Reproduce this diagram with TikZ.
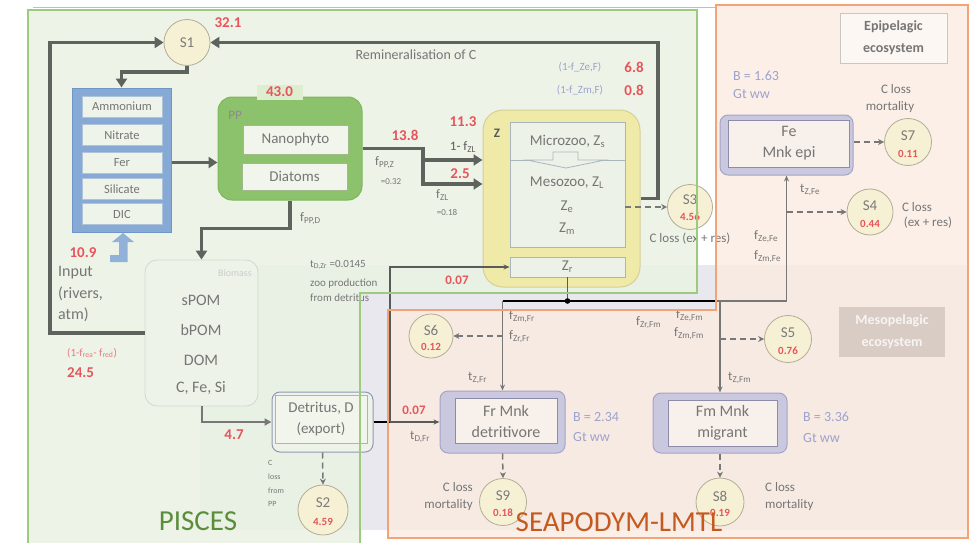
\documentclass[tikz,border=0pt]{standalone}
\usepackage{fontspec}
\setmainfont{Carlito}
\usetikzlibrary{arrows.meta}
\newcommand{\subx}[1]{\textsubscript{#1}}
\definecolor{pgreenfill}{HTML}{EAF3E3}
\definecolor{pgreenline}{HTML}{9CCB80}
\definecolor{sorgfill}{HTML}{FBEBE1}
\definecolor{sorgline}{HTML}{F2A478}
\definecolor{mesogray}{HTML}{E8E8EE}
\definecolor{numred}{HTML}{E6555B}
\definecolor{txtgray}{HTML}{767676}
\definecolor{darktxt}{HTML}{5A5A5A}
\definecolor{darkline}{HTML}{5E635E}
\definecolor{midline}{HTML}{777777}
\definecolor{nutblue}{HTML}{86A9D5}
\definecolor{nutline}{HTML}{6E97C8}
\definecolor{innerfill}{HTML}{EEF4EA}
\definecolor{innerline}{HTML}{AFC3D8}
\definecolor{ppgreen}{HTML}{8DC26C}
\definecolor{ppline}{HTML}{7FB55C}
\definecolor{ppinfill}{HTML}{F1F5EC}
\definecolor{ppinline}{HTML}{9FB98C}
\definecolor{tabgreen}{HTML}{DCEDD0}
\definecolor{zyellow}{HTML}{EFEAA8}
\definecolor{zline}{HTML}{D6CF98}
\definecolor{zinner}{HTML}{EDF2E8}
\definecolor{zinline}{HTML}{A9B6BE}
\definecolor{circfill}{HTML}{F6F1D5}
\definecolor{circline}{HTML}{B3AC94}
\definecolor{mnkfill}{HTML}{C9C8DF}
\definecolor{mnkline}{HTML}{A5A4C6}
\definecolor{mnkinner}{HTML}{F8F0EB}
\definecolor{mnkinline}{HTML}{8E8BAA}
\definecolor{lav}{HTML}{9EA2CE}
\definecolor{piscestxt}{HTML}{5B8E3C}
\definecolor{seatxt}{HTML}{C45A1E}
\definecolor{biofill}{HTML}{EEF3EA}
\definecolor{bioline}{HTML}{D2D8CE}
\definecolor{mesobox}{HTML}{D8CCC5}
\definecolor{detline}{HTML}{9097B5}
\definecolor{detinline}{HTML}{A9B3C2}
\tikzset{
  lbl/.style={text=txtgray, inner sep=0pt, font=\fontsize{13}{15}\selectfont},
  small/.style={text=txtgray, inner sep=0pt, font=\fontsize{11}{13}\selectfont},
  tinyt/.style={text=txtgray, inner sep=0pt, font=\fontsize{8}{9}\selectfont},
  num/.style={text=numred, inner sep=0pt, font=\bfseries\fontsize{15}{17}\selectfont},
  snum/.style={text=numred, inner sep=0pt, font=\bfseries\fontsize{11}{12}\selectfont},
  bigt/.style={text=txtgray, inner sep=0pt, font=\fontsize{16}{19}\selectfont},
  blav/.style={text=lav, inner sep=0pt, font=\fontsize{14}{16}\selectfont},
  cirtxt/.style={text=darktxt!80, inner sep=0pt, font=\fontsize{15}{17}\selectfont},
  scirc/.style={circle, draw=circline, fill=circfill, line width=0.8pt, minimum size=46pt, inner sep=0pt},
  nutbox/.style={draw=innerline, fill=innerfill, line width=0.8pt, minimum width=80pt, minimum height=21pt, inner sep=0pt, text=txtgray, font=\fontsize{12.5}{14}\selectfont},
  ppin/.style={draw=ppinline, fill=ppinfill, line width=0.8pt, minimum width=105pt, inner sep=0pt, text=txtgray, font=\fontsize{15}{17}\selectfont},
  zin/.style={draw=zinline, fill=zinner, line width=0.9pt, minimum width=115pt, inner sep=0pt, text=txtgray, font=\fontsize{15}{17}\selectfont},
  zt/.style={text=txtgray, inner sep=0pt, font=\fontsize{15}{17}\selectfont},
  mnkout/.style={draw=mnkline, fill=mnkfill, rounded corners=8pt, line width=1pt, inner sep=0pt},
  mnkin/.style={draw=mnkinline, fill=mnkinner, line width=0.8pt, inner sep=0pt, align=center, text=txtgray, font=\fontsize{16}{21}\selectfont},
  thickarr/.style={draw=darkline, line width=3.5pt, -{Triangle[length=9pt,width=11pt]}},
  midarr/.style={draw=midline, line width=2pt, -{Triangle[length=7pt,width=7pt]}},
  thinarr/.style={draw=midline, line width=1.2pt, -{Stealth[length=6pt,width=5pt]}},
  dasharr/.style={draw=midline, line width=1.5pt, dash pattern=on 6pt off 4pt, -{Stealth[length=6pt,width=6pt]}}
}
\begin{document}
\begin{tikzpicture}[x=1pt,y=-1pt]
\useasboundingbox (0,0) rectangle (974,543);
\fill[white] (0,0) rectangle (974,543);
\fill[mesogray] (200,265) rectangle (968,530);
\fill[pgreenfill, opacity=0.85] (28,10) -- (697,10) -- (697,293) -- (360,293) -- (360,543) -- (28,543) -- cycle;
\fill[sorgfill, opacity=0.8] (716,5) -- (968,5) -- (968,538) -- (388,538) -- (388,310) -- (716,310) -- cycle;
\draw[gray!50, line width=0.6pt] (33,7) -- (716,7);

% ---------- coordinates
\coordinate (lc) at (50,42.5);
\coordinate (rc) at (658,42.5);
\coordinate (jz1) at (423,160);
\coordinate (jz2) at (423,184);
\coordinate (jd) at (390,422);
\coordinate (hb) at (567.5,301);
\coordinate (hbr) at (716,301);

% ---------- S1
\node[scirc] (s1) at (187,42.5) {};
\node[cirtxt] at (s1) {S1};
\node[num] at (228,23) {32.1};

% ---------- nutrients
\node[draw=nutline, fill=nutblue, line width=1pt, minimum width=99pt, minimum height=144pt, inner sep=0pt] (nut) at (121.5,160) {};
\node[nutbox] (amm) at (122,106.5) {Ammonium};
\node[nutbox] (nit) at (122,135) {Nitrate};
\node[nutbox] (fer) at (122,162.5) {Fer};
\node[nutbox] (sil) at (122,189) {Silicate};
\node[nutbox] (dic) at (122,214) {DIC};
\fill[nutblue!90] (123,233) -- (134,242) -- (127.5,242) -- (127.5,262) -- (110,262) -- (110,255) -- (119,255) -- (119,242) -- (112,242) -- cycle;
\node[num] at (83,253) {10.9};
\node[bigt, anchor=west] at (58,273) {Input};
\node[bigt, anchor=west] at (58,294) {(rivers,};
\node[bigt, anchor=west] at (58,315) {atm)};
\node[text=numred!80, inner sep=0pt, font=\fontsize{11}{13}\selectfont, anchor=west] at (67,353) {(1-f\subx{rea}- f\subx{red})};
\node[num, anchor=west] at (67,373) {24.5};

% ---------- PP
\node[draw=ppline, fill=ppgreen, rounded corners=14pt, line width=1pt, minimum width=144pt, minimum height=103pt, inner sep=0pt] (pp) at (290,148.5) {};
\node[fill=tabgreen, minimum width=46pt, minimum height=15pt, inner sep=0pt] (tab) at (279.5,92) {};
\node[num] at (tab) {43.0};
\node[lbl, text=darktxt!70] at (235,115) {PP};
\node[ppin, minimum height=29pt] (nano) at (295.5,139.5) {Nanophyto};
\node[ppin, minimum height=27pt] (diat) at (294.5,176.5) {Diatoms};

% ---------- Biomass
\node[draw=bioline, fill=biofill, rounded corners=12pt, line width=0.8pt, minimum width=113pt, minimum height=146pt, inner sep=0pt] (bio) at (201.5,333) {};
\node[inner sep=0pt, text=gray!40, font=\fontsize{10}{12}\selectfont, anchor=east] at (252,273) {Biomass};
\node[bigt] at (201,300) {sPOM};
\node[bigt] at (201,330) {bPOM};
\node[bigt] at (201,360) {DOM};
\node[bigt] at (201,388) {C, Fe, Si};

% ---------- Detritus
\node[draw=detline, fill=biofill, rounded corners=8pt, line width=1pt, minimum width=101pt, minimum height=60pt, inner sep=0pt] (det) at (322.5,422) {};
\node[draw=detinline, fill=ppinfill, line width=0.8pt, minimum width=92pt, minimum height=48pt, inner sep=0pt, align=center, text=txtgray, font=\fontsize{15}{21}\selectfont] (deti) at (321,419) {Detritus, D\\(export)};
\node[scirc, minimum size=50pt] (s2) at (323,510) {};
\node[cirtxt] at (323,503) {S2};
\node[snum] at (323,522) {4.59};
\node[tinyt, anchor=west] at (268,463) {C};
\node[tinyt, anchor=west] at (268,477) {loss};
\node[tinyt, anchor=west] at (268,491) {from};
\node[tinyt, anchor=west] at (268,504) {PP};

% ---------- Z
\node[draw=zline, fill=zyellow, rounded corners=20pt, line width=1pt, minimum width=157pt, minimum height=177pt, inner sep=0pt] (zbox) at (561.5,198.5) {};
\node[inner sep=0pt, font=\bfseries\fontsize{13}{15}\selectfont, text=darktxt] at (497,133) {Z};
\node[zin, minimum height=87pt] (meso) at (567.5,203.5) {};
\node[zin, minimum height=38pt] (micro) at (567.5,141) {Microzoo, Z\subx{s}};
\filldraw[fill=zinner, draw=zinline, line width=0.8pt] (553,160) -- (553,152) -- (578,152) -- (578,160) -- (605,160) -- (566,168) -- (527,160) -- cycle;
\node[zt] at (567,183) {Mesozoo, Z\subx{L}};
\node[zt] at (567,207) {Z\subx{e}};
\node[zt] at (567,229) {Z\subx{m}};
\node[zin, minimum height=20pt] (zr) at (567.5,267) {Z\subx{r}};

\node[scirc, minimum size=45pt] (s3) at (690,207) {};
\node[cirtxt] at (690,200) {S3};
\node[snum] at (690,217) {4.56};
\node[lbl] at (690,239) {C loss (ex + res)};

% ---------- labels on top / PP-Z
\node[inner sep=0pt, text=txtgray, font=\fontsize{14}{16}\selectfont] at (416,55) {Remineralisation of C};
\node[inner sep=0pt, text=lav, font=\fontsize{11}{13}\selectfont] at (580,67) {(1-f\_Ze,F)};
\node[num] at (634,67) {6.8};
\node[inner sep=0pt, text=lav, font=\fontsize{11}{13}\selectfont] at (580,90) {(1-f\_Zm,F)};
\node[num] at (634,90) {0.8};
\node[num] at (405,135) {13.8};
\node[lbl, anchor=west] at (375,163) {f\subx{PP,Z}};
\node[inner sep=0pt, text=txtgray, font=\fontsize{9}{10}\selectfont] at (391,182) {=0.32};
\node[num] at (463,122) {11.3};
\node[lbl, text=darktxt] at (463,147) {1- f\subx{ZL}};
\node[num] at (460,174) {2.5};
\node[lbl, anchor=west] at (436,195) {f\subx{ZL}};
\node[inner sep=0pt, text=txtgray, font=\fontsize{9}{10}\selectfont] at (447,212) {=0.18};
\node[lbl, anchor=west] at (300,219) {f\subx{PP,D}};
\node[num] at (234,435) {4.7};
\node[small, anchor=west] at (310,265) {t\subx{D,Zr} =0.0145};
\node[small, anchor=west] at (310,284) {zoo production};
\node[small, anchor=west] at (310,298) {from detritus};
\node[num, font=\bfseries\fontsize{13}{15}\selectfont] at (457,280) {0.07};

% ---------- Mnk boxes
\node[mnkout, minimum width=133pt, minimum height=60pt] (fe) at (786.5,145) {};
\node[mnkin, minimum width=121pt, minimum height=47pt] (fei) at (789,143.5) {Fe\\Mnk epi};
\node[mnkout, minimum width=125pt, minimum height=62pt] (frm) at (502.5,422) {};
\node[mnkin, minimum width=102pt, minimum height=45pt] (frmi) at (506,421) {Fr Mnk\\detritivore};
\node[mnkout, minimum width=134pt, minimum height=60pt] (fmm) at (720,423) {};
\node[mnkin, minimum width=109pt, minimum height=46pt] (fmmi) at (722.5,423) {Fm Mnk\\migrant};

\node[draw=gray!45, fill=white!60!sorgfill, line width=0.8pt, minimum width=107pt, minimum height=50pt, inner sep=0pt, align=center, text=txtgray, font=\bfseries\fontsize{14}{22}\selectfont] (epi) at (893.5,38) {Epipelagic\\ecosystem};
\node[fill=mesobox, minimum width=106pt, minimum height=50pt, inner sep=0pt, align=center, text=white!80!mesobox, font=\bfseries\fontsize{14}{22}\selectfont] (mesoeco) at (892,332) {Mesopelagic\\ecosystem};

\node[blav, anchor=west] at (733,76) {B = 1.63};
\node[blav, anchor=west] at (733,94) {Gt ww};
\node[blav, anchor=west] at (573,417) {B = 2.34};
\node[blav, anchor=west] at (573,437) {Gt ww};
\node[blav, anchor=west] at (803,417) {B = 3.36};
\node[blav, anchor=west] at (803,438) {Gt ww};

% ---------- S circles Seapodym
\node[scirc, minimum size=47pt] (s7) at (908,142) {};
\node[cirtxt] at (908,136) {S7};
\node[snum] at (908,154) {0.11};
\node[lbl] at (896,89) {C loss};
\node[lbl] at (890,107) {mortality};
\node[scirc, minimum size=46pt] (s4) at (870,212) {};
\node[cirtxt] at (870,206) {S4};
\node[snum] at (870,224) {0.44};
\node[lbl] at (917,207) {C loss};
\node[lbl] at (928,223) {(ex + res)};
\node[scirc, minimum size=47pt] (s5) at (788,339) {};
\node[cirtxt] at (788,333) {S5};
\node[snum] at (788,351) {0.76};
\node[scirc, minimum size=44pt] (s6) at (431,336) {};
\node[cirtxt] at (431,330) {S6};
\node[snum] at (431,347) {0.12};
\node[scirc, minimum size=47pt] (s9) at (503,502) {};
\node[cirtxt] at (503,496) {S9};
\node[snum] at (503,513) {0.18};
\node[scirc, minimum size=48pt] (s8) at (720,502) {};
\node[cirtxt] at (720,496) {S8};
\node[snum] at (720,513) {0.19};
\node[lbl, anchor=east] at (473,487) {C loss};
\node[lbl, anchor=east] at (473,505) {mortality};
\node[lbl, anchor=west] at (765,487) {C loss};
\node[lbl, anchor=west] at (765,505) {mortality};

\node[lbl, anchor=west] at (800,190) {t\subx{Z,Fe}};
\node[lbl, anchor=west] at (754,237) {f\subx{Ze,Fe}};
\node[lbl, anchor=west] at (754,257) {f\subx{Zm,Fe}};
\node[lbl, anchor=west] at (468,378) {t\subx{Z,Fr}};
\node[lbl, anchor=west] at (509,317) {f\subx{Zm,Fr}};
\node[lbl, anchor=west] at (509,337) {f\subx{Zr,Fr}};
\node[lbl, anchor=west] at (636,323) {f\subx{Zr,Fm}};
\node[lbl, anchor=west] at (676,316) {f\subx{Ze,Fm}};
\node[lbl, anchor=west] at (674,334) {f\subx{Zm,Fm}};
\node[lbl, anchor=west] at (728,378) {t\subx{Z,Fm}};
\node[num, font=\bfseries\fontsize{13}{15}\selectfont] at (414,410) {0.07};
\node[lbl, anchor=west] at (410,437) {t\subx{D,Fr}};

% ---------- connectors
\draw[thickarr] (s1.south) -- ++(0,6) -| (nut.north);
\draw[thickarr] (bio.west) -| (lc) -- (s1.west);
\draw[thickarr] (zbox.east) -| (rc) -- (s1.east);
\draw[thickarr] (nut.east |- fer) -- (pp.west |- fer);
\draw[thickarr] (pp.east) -| (jz2) -- (zbox.west |- jz2);
\draw[thickarr] (jz1) -- (zbox.west |- jz1);
\draw[thickarr] (pp.south) -- ++(0,28) -| (bio.north);
\draw[midarr] (bio.south) |- (det.west);
\draw[dasharr] (det.south) -- (s2.north);
\draw[line width=2.5pt, black] (det.east) -- (jd);
\draw[thinarr, draw=darktxt] (jd) -- (frm.west);
\draw[thinarr, draw=darktxt] (jd) |- (zr.west);
\draw[line width=1.5pt, darktxt] (zr.south) -- (hb);
\draw[line width=2.2pt, black] (frm.north |- hb) -- (hbr);
\draw[line width=1.2pt, midline] (hbr) -- (fe.south |- hb);
\fill[black] (hb) circle (2.8pt);
\draw[thinarr] (frm.north |- hb) -- (frm.north);
\draw[thinarr] (fe.south |- hb) -- (fe.south);
\draw[thinarr] (fmm.north |- hb) -- (fmm.north);
\draw[dasharr] (frm.north |- s6) -- (s6.east);
\draw[dasharr] (fmm.north |- s5) -- (s5.west);
\draw[dasharr] (fe.south |- s4) -- (s4.west);
\draw[dasharr] (fe.east |- s7) -- (s7.west);
\draw[dasharr] (meso.east |- s3) -- (s3.west);
\draw[dasharr] (frm.south) -- (s9.north);
\draw[dasharr] (fmm.south) -- (s8.north);

% ---------- region borders and titles
\draw[pgreenline, line width=2.5pt] (28,543) -- (28,10) -- (697,10) -- (697,293) -- (360,293) -- (360,543);
\draw[sorgline, line width=2.5pt] (716,5) -- (968,5) -- (968,538) -- (388,538) -- (388,310) -- (716,310) -- cycle;
\node[inner sep=0pt, text=piscestxt, font=\fontsize{29}{31}\selectfont] at (198,521) {PISCES};
\node[inner sep=0pt, text=seatxt, font=\fontsize{29}{31}\selectfont] at (619,522) {SEAPODYM-LMTL};
\end{tikzpicture}
\end{document}
